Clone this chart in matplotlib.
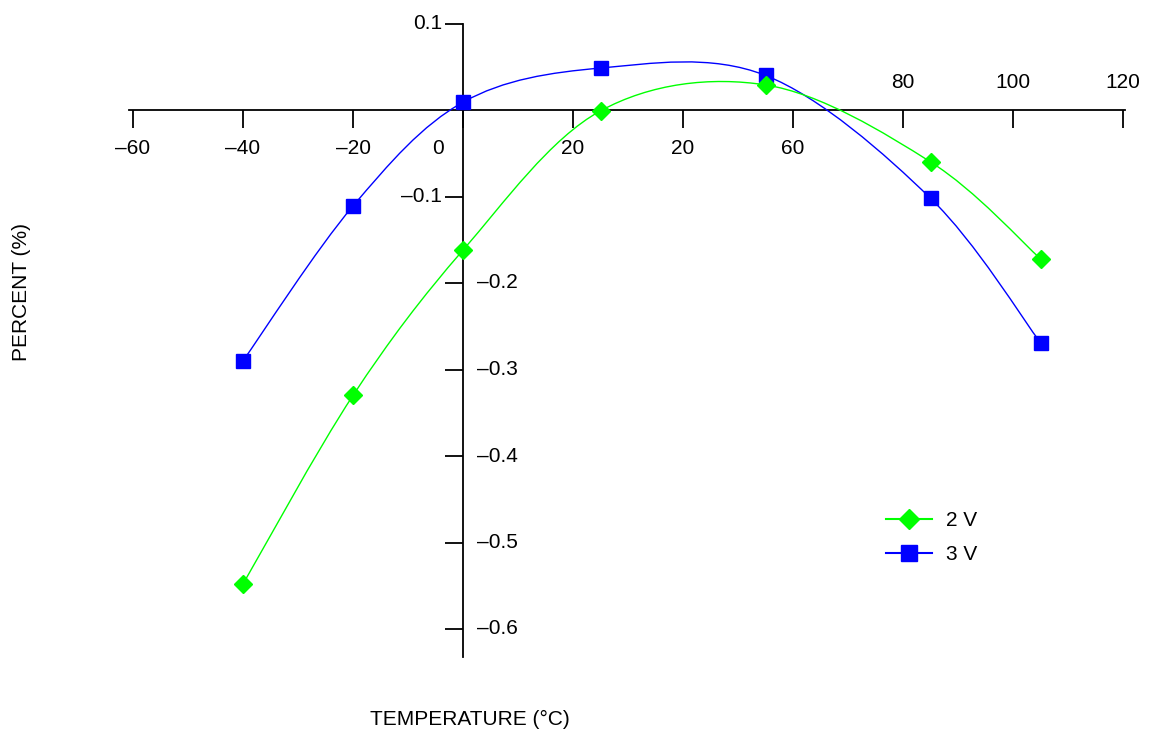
import matplotlib
matplotlib.use('Agg')
import matplotlib.pyplot as plt
from matplotlib.path import Path
from matplotlib.patches import PathPatch
from matplotlib.lines import Line2D

# Data
temps = [-40, -20, 0, 25, 55, 85, 105]
pct_2v = [-0.548, -0.330, -0.162, -0.001, 0.029, -0.060, -0.172]
pct_3v = [-0.290, -0.111, 0.009, 0.0485, 0.040, -0.102, -0.269]

xticks = [-60, -40, -20, 0, 20, 40, 60, 80, 100, 120]
xtick_labels = ['\u201360', '\u201340', '\u201320', '0', '20', '20', '60', '80', '100', '120']
yticks = [0.1, -0.1, -0.2, -0.3, -0.4, -0.5, -0.6]
ytick_labels = ['0.1', '\u20130.1', '\u20130.2', '\u20130.3', '\u20130.4', '\u20130.5', '\u20130.6']

plt.rcParams['font.family'] = ['Liberation Sans', 'DejaVu Sans']
FS = 15


def smooth_path(xs, ys):
    # Catmull-Rom curve through the points, as cubic bezier segments
    pts = list(zip(xs, ys))
    n = len(pts)
    verts = [pts[0]]
    codes = [Path.MOVETO]
    for i in range(n - 1):
        p0 = pts[max(i - 1, 0)]
        p1 = pts[i]
        p2 = pts[i + 1]
        p3 = pts[min(i + 2, n - 1)]
        c1 = (p1[0] + (p2[0] - p0[0]) / 6, p1[1] + (p2[1] - p0[1]) / 6)
        c2 = (p2[0] - (p3[0] - p1[0]) / 6, p2[1] - (p3[1] - p1[1]) / 6)
        verts += [c1, c2, p2]
        codes += [Path.CURVE4] * 3
    return Path(verts, codes)


fig = plt.figure(figsize=(11.5, 7.3), dpi=100, facecolor='white')
ax = fig.add_axes([0, 0, 1, 1])
ax.set_xlim(-463 / 5.5, (1150 - 463) / 5.5)
ax.set_ylim((110 - 730) / 865, 110 / 865)
ax.patch.set_visible(False)

# Axes crossing at zero
for s in ['top', 'right']:
    ax.spines[s].set_visible(False)
ax.spines['left'].set_position(('data', 0))
ax.spines['bottom'].set_position(('data', 0))
ax.spines['left'].set_bounds(-0.632, 0.1)
ax.spines['bottom'].set_bounds(-60.7, 120.4)
for s in ['left', 'bottom']:
    ax.spines[s].set_linewidth(1.3)
ax.set_xticks(xticks)
ax.set_yticks(yticks)
ax.tick_params(direction='out', length=13, width=1.3,
               labelbottom=False, labelleft=False)

# Tick labels
for x, lab in zip(xticks, xtick_labels):
    if x >= 80:
        off = (0, 19.5)
    elif x == 0:
        off = (-18, -27.4)
    else:
        off = (0, -27.4)
    ax.annotate(lab, (x, 0), xytext=off, textcoords='offset points',
                ha='center', va='center', fontsize=FS)
for y, lab in zip(yticks, ytick_labels):
    if y > -0.15:
        ax.annotate(lab, (0, y), xytext=(-15, 0), textcoords='offset points',
                    ha='right', va='center', fontsize=FS)
    else:
        ax.annotate(lab, (0, y), xytext=(10, 0), textcoords='offset points',
                    ha='left', va='center', fontsize=FS)

# Curves
blue = '#0000ff'
green = '#00ff00'
ax.add_patch(PathPatch(smooth_path(temps, pct_3v), fill=False, edgecolor=blue, lw=1.0, zorder=3))
ax.plot(temps, pct_3v, ls='none', marker='s', ms=10, color=blue, zorder=4)
ax.add_patch(PathPatch(smooth_path(temps, pct_2v), fill=False, edgecolor=green, lw=1.0, zorder=5))
ax.plot(temps, pct_2v, ls='none', marker='D', ms=9, color=green, zorder=6)

handles = [Line2D([], [], color=green, marker='D', ms=10.5, lw=1.5),
           Line2D([], [], color=blue, marker='s', ms=11.5, lw=1.5)]
ax.legend(handles, ['2 V', '3 V'], loc='upper left',
          bbox_to_anchor=(886 / 1150, 1 - 511 / 730), bbox_transform=fig.transFigure,
          frameon=False, fontsize=FS, borderpad=0, borderaxespad=0,
          handlelength=2.2, handletextpad=0.7, labelspacing=0.71)

fig.text(22 / 1150, 1 - 292 / 730, 'PERCENT (%)', rotation=90,
         ha='center', va='center', fontsize=FS)
fig.text(470 / 1150, 1 - 719 / 730, 'TEMPERATURE (\u00b0C)',
         ha='center', va='center', fontsize=FS)

fig.savefig('out.png', dpi=100, facecolor='white')
